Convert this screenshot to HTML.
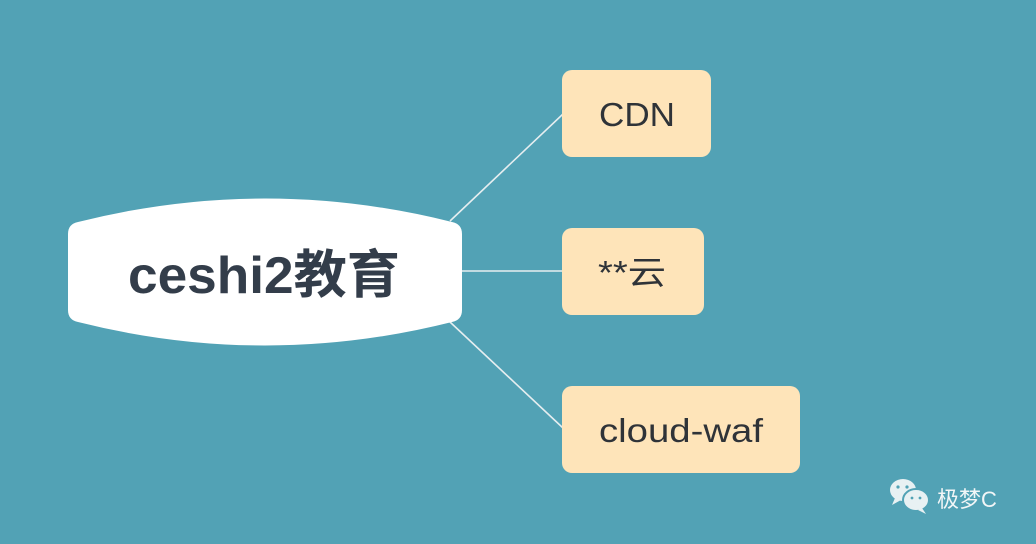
<!DOCTYPE html>
<html><head><meta charset="utf-8"><style>
html,body{margin:0;padding:0;background:#52a2b5;}
svg{display:block}
</style></head><body>
<svg width="1036" height="544" xmlns="http://www.w3.org/2000/svg">
<rect width="1036" height="544" fill="#52a2b5"/>
<g stroke="#e6eef0" stroke-width="1.6" fill="none">
<line x1="450" y1="221" x2="563" y2="114"/>
<line x1="462" y1="271" x2="563" y2="271"/>
<line x1="450" y1="322" x2="563" y2="428"/>
</g>
<path d="M78 222 Q265 175 452 222 Q462 224 462 234 L462 310 Q462 320 452 322 Q265 369 78 322 Q68 320 68 310 L68 234 Q68 224 78 222 Z" fill="#fff"/>
<text x="128" y="293" textLength="272" lengthAdjust="spacingAndGlyphs" font-family="'Liberation Sans','Noto Sans CJK SC',sans-serif" font-weight="bold" font-size="52" fill="#333d4a">ceshi2教育</text>
<g fill="#fee4b9">
<rect x="562" y="70" width="149" height="87" rx="10"/>
<rect x="562" y="228" width="142" height="87" rx="10"/>
<rect x="562" y="386" width="238" height="87" rx="10"/>
</g>
<g font-family="'Liberation Sans','Noto Sans CJK SC',sans-serif" font-size="33" fill="#2f3338">
<text x="599" y="126" textLength="76" lengthAdjust="spacingAndGlyphs">CDN</text>
<text x="598" y="284" textLength="68" lengthAdjust="spacingAndGlyphs">**云</text>
<text x="599" y="442" textLength="164" lengthAdjust="spacingAndGlyphs">cloud-waf</text>
</g>
<g fill="#e8f1f3">
<ellipse cx="903" cy="490" rx="13" ry="11"/>
<path d="M895 498 L892 505 L901 500 Z"/>
<ellipse cx="916" cy="500" rx="13" ry="11" stroke="#52a2b5" stroke-width="2"/>
<path d="M922 508 L926 514 L918 510 Z"/>
</g>
<g fill="#52a2b5"><circle cx="898" cy="487" r="1.6"/><circle cx="907" cy="487" r="1.6"/><circle cx="912" cy="498" r="1.4"/><circle cx="920" cy="498" r="1.4"/></g>
<text x="937" y="507" font-family="'Liberation Sans','Noto Sans CJK SC',sans-serif" font-size="22" fill="#f2f6f7">极梦C</text>
</svg>
</body></html>
